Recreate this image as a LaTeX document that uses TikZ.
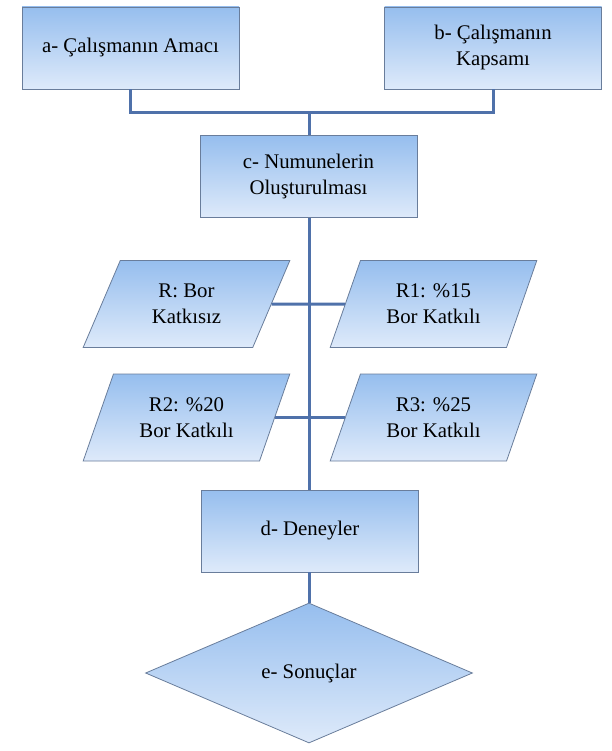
\documentclass[tikz,border=0pt]{standalone}
\usepackage{fontspec}
\setmainfont{Liberation Serif}
\newfontfamily\timesfont{Liberation Serif}
\usetikzlibrary{positioning,shapes.geometric}
\definecolor{boxtop}{RGB}{150,190,238}
\definecolor{boxbot}{RGB}{222,234,250}
\definecolor{boxline}{RGB}{105,125,155}
\definecolor{linkline}{RGB}{79,113,170}
\tikzset{
    stage/.style={draw=boxline, line width=0.8pt, top color=boxtop, bottom color=boxbot,
      minimum width=217pt, minimum height=82pt, align=center, inner sep=0pt},
    sample/.style={stage, trapezium, trapezium left angle=64, trapezium right angle=116,
      trapezium stretches=true, minimum width=207pt, minimum height=87pt},
    result/.style={stage, diamond, aspect=2.3, minimum width=327pt, minimum height=140pt},
    link/.style={draw=linkline, line width=3pt}
}
\begin{document}
\begin{tikzpicture}[x=1pt, y=-1pt, font=\timesfont\fontsize{20.8}{26}\selectfont]
  \useasboundingbox (0,0) rectangle (611,751);
  % top boxes
  \node[stage] (amac) at (130.5,48) {a- Çalışmanın Amacı};
  \node[stage] (kapsam) at (493,48) {b- Çalışmanın\\Kapsamı};
  \node[stage] (numune) at (308.5,176.5) {c- Numunelerin\\Oluşturulması};
  % samples
  \node[sample] (r0) at (186.5,304) {R: Bor\\Katkısız};
  \node[sample] (r1) at (433.5,304) {R1: \%15\\Bor Katkılı};
  \node[sample] (r2) at (186.5,417.5) {R2: \%20\\Bor Katkılı};
  \node[sample] (r3) at (433.5,417.5) {R3: \%25\\Bor Katkılı};
  % bottom
  \node[stage] (deney) at (310,531) {d- Deneyler};
  \node[result] (sonuc) at (309,673) {e- Sonuçlar};
  % connectors
  \coordinate (bus) at (309,113);
  \draw[link] (amac.south) |- (bus) -| (kapsam.south);
  \draw[link] (bus) -- (bus |- numune.north);
  \draw[link] (bus |- numune.south) -- (bus |- deney.north);
  \draw[link] (r0.east) -- (r1.west);
  \draw[link] (r2.east) -- (r3.west);
  \draw[link] (bus |- deney.south) -- (bus |- sonuc.north);
\end{tikzpicture}
\end{document}
